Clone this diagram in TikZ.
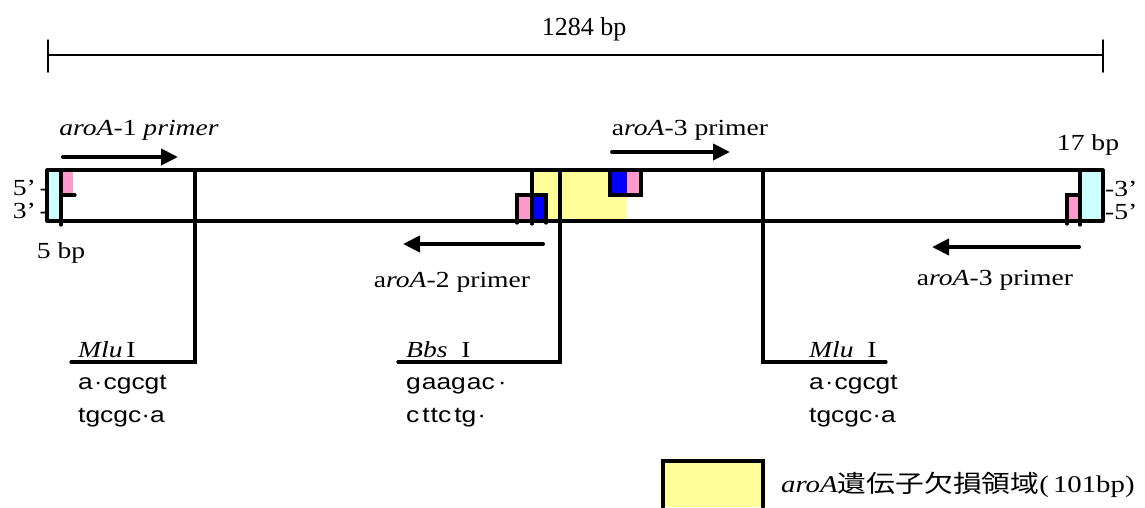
\documentclass[tikz,border=0pt]{standalone}
\usepackage{fontspec}
\setmainfont{Liberation Serif}[FakeStretch=1.2]
\setsansfont{Liberation Sans}[FakeStretch=1.2]
\newfontfamily\cjk{Noto Sans CJK JP}[FakeStretch=1.2]
\newfontfamily\plainserif{Liberation Serif}
\usepackage{tkz-euclide}
\usetikzlibrary{arrows.meta}

\definecolor{pinkbox}{HTML}{FF99CC}
\definecolor{cyanbox}{HTML}{CCFFFF}
\definecolor{yellowbox}{HTML}{FFFF99}
\definecolor{bluebox}{HTML}{0000FF}

\tikzset{
  strand/.style={line width=3.2pt},
  cutline/.style={line width=3.2pt},
  scaleline/.style={line width=1.8pt},
  primer/.style={line width=4pt,-{Triangle[length=17pt,width=16pt]}},
  lbl/.style={font=\fontsize{23}{26}\selectfont,inner sep=0pt},
  seq/.style={font=\fontsize{22}{26}\selectfont\sffamily,inner sep=0pt,anchor=base west},
}

\begin{document}
\begin{tikzpicture}[x=1pt,y=-1pt]
                    \useasboundingbox (0,0) rectangle (1145,507);

                    % coloured blocks
                    \fill[yellowbox] (532,170) rectangle (627,221);
                    \fill[cyanbox] (47,170) rectangle (61,221);
                    \fill[cyanbox] (1080,170) rectangle (1103,221);
                    \fill[pinkbox] (61,170) rectangle (73,195);
                    \fill[pinkbox] (517,195) rectangle (532,221);
                    \fill[bluebox] (532,195) rectangle (546,221);
                    \fill[bluebox] (610,170) rectangle (627,195);
                    \fill[pinkbox] (627,170) rectangle (641,195);
                    \fill[pinkbox] (1067,195) rectangle (1080,221);
                    \fill[yellowbox] (663,461) rectangle (763,507);

                    % scale bar
                    \tkzDefPoint(48,55){SL}
                    \tkzDefPoint(1103,55){SR}
                    \tkzDefShiftPoint[SL](0,-15){SLa}
                    \tkzDefShiftPoint[SL](0,17){SLb}
                    \tkzDefShiftPoint[SR](0,-15){SRa}
                    \tkzDefShiftPoint[SR](0,17){SRb}
                    \tkzDrawSegment[scaleline](SL,SR)
                    \tkzDrawSegments[line width=1.5pt](SLa,SLb SRa,SRb)
                    \node[lbl,font=\fontsize{26}{28}\selectfont\plainserif] (total) at (584,29) {1284 bp};

                    % double strand
                    \tkzDefPoint(47,170){TL}
                    \tkzDefPoint(1103,170){TR}
                    \tkzDefPoint(1103,221){BR}
                    \tkzDefPoint(47,221){BL}
                    \tkzDrawPolygon[strand](TL,TR,BR,BL)

                    % left end
                    \tkzDefPoint(61,170){La}
                    \tkzDefPoint(61,225){Lb}
                    \tkzDefPoint(61,195){Lc}
                    \tkzDefPoint(75,195){Ld}
                    \tkzDrawSegments[cutline](La,Lb Lc,Ld)

                    % right end
                    \tkzDefPoint(1080,170){Ra}
                    \tkzDefPoint(1080,225){Rb}
                    \tkzDefPoint(1067,224){Rc}
                    \tkzDefPoint(1067,195){Rd}
                    \tkzDefPoint(1080,195){Re}
                    \tkzDrawSegment[cutline](Ra,Rb)
                    \tkzDrawPolySeg[cutline](Rc,Rd,Re)

                    % deleted region
                    \tkzDefPoint(517,223){Da}
                    \tkzDefPoint(517,195){Db}
                    \tkzDefPoint(546,195){Dc}
                    \tkzDefPoint(546,223){Dd}
                    \tkzDefPoint(532,170){De}
                    \tkzDefPoint(532,224){Df}
                    \tkzDrawPolySeg[cutline](Da,Db,Dc,Dd)
                    \tkzDrawSegment[cutline](De,Df)
                    \tkzDefPoint(610,170){Ea}
                    \tkzDefPoint(610,195){Eb}
                    \tkzDefPoint(641,195){Ec}
                    \tkzDefPoint(641,170){Ed}
                    \tkzDrawPolySeg[cutline](Ea,Eb,Ec,Ed)

                    % restriction sites
                    \tkzDefPoint(195,170){MluLa}
                    \tkzDefPoint(195,362){MluLb}
                    \tkzDefPoint(71,362){MluLc}
                    \tkzDrawPolySeg[cutline](MluLa,MluLb,MluLc)
                    \tkzDefPoint(560,170){Bbsa}
                    \tkzDefPoint(560,362){Bbsb}
                    \tkzDefPoint(398,362){Bbsc}
                    \tkzDrawPolySeg[cutline](Bbsa,Bbsb,Bbsc)
                    \tkzDefPoint(763,170){MluRa}
                    \tkzDefPoint(763,362){MluRb}
                    \tkzDefPoint(886,362){MluRc}
                    \tkzDrawPolySeg[cutline](MluRa,MluRb,MluRc)

                    % primers
                    \tkzDefPoint(63,157){PAa}
                    \tkzDefPoint(178,157){PAb}
                    \tkzDefPoint(612,152){PBa}
                    \tkzDefPoint(730,152){PBb}
                    \tkzDefPoint(543,244){PCa}
                    \tkzDefPoint(403,244){PCb}
                    \tkzDefPoint(1079,247){PDa}
                    \tkzDefPoint(932,247){PDb}
                    \tkzDrawSegments[primer](PAa,PAb PBa,PBb PCa,PCb PDa,PDb)

                    \node[lbl] (primerA) at (139,130) {\textit{aroA}-1 \textit{primer}};
                    \node[lbl] (primerB) at (690,130) {a\textit{roA}-3 primer};
                    \node[lbl] (primerC) at (452,282) {a\textit{roA}-2 primer};
                    \node[lbl] (primerD) at (995,280) {a\textit{roA}-3 primer};

                    % end labels
                    \node[lbl,anchor=east] (fiveL) at (49,188) {5’\,-};
                    \node[lbl,anchor=east] (threeL) at (49,211) {3’\,-};
                    \node[lbl,anchor=west] (threeR) at (1105,189) {-3’};
                    \node[lbl,anchor=west] (fiveR) at (1105,212) {-5’};
                    \node[lbl] (bpL) at (61,253) {5 bp};
                    \node[lbl] (bpR) at (1088,145) {17 bp};

                    % enzyme names and sites
                    \node[lbl,anchor=base west] (enzA) at (78,357) {\textit{Mlu}\,I};
                    \node[seq] (seqAa) at (78,389) {a\kern1pt·\kern1pt cgcgt};
                    \node[seq] (seqAb) at (78,422) {tgcgc·a};
                    \node[lbl,anchor=base west] (enzB) at (406,357) {\textit{Bbs}\ \ I};
                    \node[seq] (seqBa) at (406,389) {g\kern1pt aag\kern1pt ac\kern3pt·};
                    \node[seq] (seqBb) at (406,422) {c\kern3pt t\kern1pt tc\kern3pt tg\kern1pt·};
                    \node[lbl,anchor=base west] (enzC) at (809,357) {\textit{Mlu}\ \ I};
                    \node[seq] (seqCa) at (809,389) {a\kern1pt·\kern1pt cgcgt};
                    \node[seq] (seqCb) at (809,422) {tgcgc·a};

                    % legend
                    \tkzDefPoint(663,507){Ga}
                    \tkzDefPoint(663,461){Gb}
                    \tkzDefPoint(763,461){Gc}
                    \tkzDefPoint(763,507){Gd}
                    \tkzDrawPolySeg[cutline](Ga,Gb,Gc,Gd)
                    \node[lbl,anchor=west,font=\fontsize{24}{26}\selectfont] (legend) at (781,485) {\textit{aroA}{\cjk 遺伝子欠損領域}(\,101bp)};
                \end{tikzpicture}
\end{document}
